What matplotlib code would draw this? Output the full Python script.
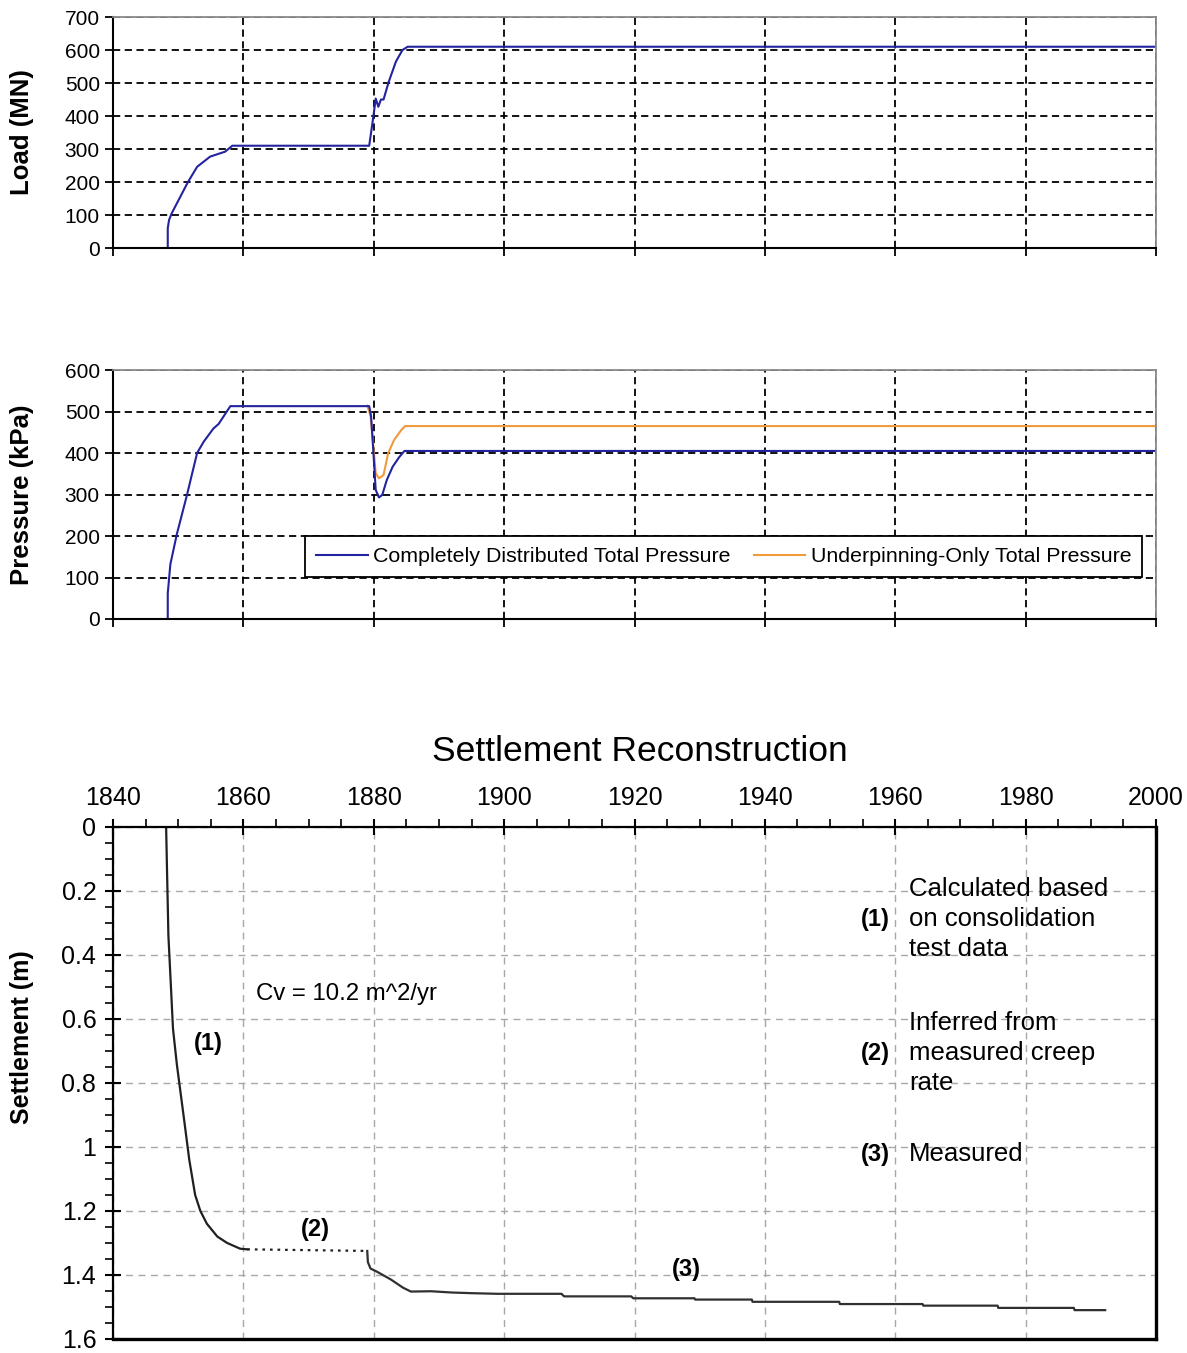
import matplotlib
matplotlib.use('Agg')
import matplotlib.pyplot as plt
from matplotlib.ticker import MultipleLocator

plt.rcParams['font.family'] = ['Liberation Sans', 'DejaVu Sans']

# load history
load_years = [1848.4, 1848.4, 1848.6, 1849.0, 1851.5, 1852.9, 1854.9, 1857.2, 1858.3, 1879.3,
              1879.95, 1880.3, 1880.7, 1881.1, 1881.5, 1882.3, 1883.4, 1884.4, 1885.2, 2000]
load_mn = [0, 60, 85, 105, 200, 246, 277, 292, 310, 310,
           400, 453, 428, 450, 450, 504, 565, 600, 610, 610]

# pressure history
dist_years = [1848.4, 1848.4, 1848.8, 1849.8, 1851.3, 1852.9, 1853.9, 1855.4, 1856.2, 1858.0, 1879.3,
              1879.6, 1880.05, 1880.3, 1880.8, 1881.3, 1882.0, 1882.9, 1883.9, 1884.7, 2000]
dist_kpa = [0, 62, 132, 205, 296, 400, 427, 459, 470, 513, 513,
            487, 375, 311, 293, 299, 335, 367, 390, 405, 405]
under_years = [1879.0, 1879.5, 1879.95, 1880.3, 1880.8, 1881.5, 1882.2, 1883.1, 1884.2, 1884.8, 2000]
under_kpa = [514, 491, 415, 351, 339, 347, 399, 431, 455, 465, 465]

# settlement
calc_years = [1848.15, 1848.26, 1848.5, 1848.9, 1849.2, 1849.8, 1850.8, 1851.7, 1852.6, 1853.4,
              1854.4, 1856.0, 1857.5, 1859.5, 1860.6]
calc_settle = [0.0, 0.11, 0.34, 0.505, 0.63, 0.743, 0.898, 1.04, 1.15, 1.2,
               1.24, 1.28, 1.30, 1.318, 1.32]
creep_years = [1860.6, 1879.0]
creep_settle = [1.32, 1.325]
meas_years = [1879.0, 1879.1, 1879.5, 1880.5, 1882.6, 1884.5, 1885.7, 1888.8, 1892.0, 1895.0,
              1899.0, 1908.8, 1909.2, 1919.5, 1919.8, 1929.2, 1929.3, 1938.0, 1938.1, 1951.4,
              1951.5, 1964.2, 1964.3, 1975.7, 1975.8, 1987.4, 1987.5, 1992.2]
meas_settle = [1.325, 1.36, 1.38, 1.39, 1.414, 1.44, 1.452, 1.451, 1.455, 1.457,
               1.459, 1.459, 1.467, 1.467, 1.473, 1.473, 1.477, 1.477, 1.484, 1.484,
               1.491, 1.491, 1.496, 1.496, 1.503, 1.503, 1.51, 1.51]

year_ticks = list(range(1840, 2001, 20))
blue = '#2323a0'
orange = '#f09a3c'

fig = plt.figure(figsize=(11.87, 13.53), dpi=100)
ax1 = fig.add_axes([0.0952, 0.8167, 0.8787, 0.1707])
ax2 = fig.add_axes([0.0952, 0.5425, 0.8787, 0.1840])
ax3 = fig.add_axes([0.0952, 0.0104, 0.8787, 0.3784])


def style_top(ax, ymax, ystep, label):
    ax.set_xlim(1840, 2000)
    ax.set_ylim(0, ymax)
    ax.set_xticks(year_ticks)
    ax.set_xticklabels([])
    ax.set_yticks(range(0, ymax + 1, ystep))
    ax.tick_params(axis='both', labelsize=15, length=6, width=1.3, direction='out')
    ax.grid(True, color='black', linestyle=(0, (4, 2.5)), linewidth=1.3)
    ax.set_axisbelow(True)
    for s in ['top', 'right']:
        ax.spines[s].set_color('#8a8a8a')
        ax.spines[s].set_linewidth(1.3)
    for s in ['bottom', 'left']:
        ax.spines[s].set_linewidth(1.5)
    ax.set_ylabel(label, fontsize=18.5, fontweight='bold')
    ax.yaxis.set_label_coords(-0.076, 0.5)


style_top(ax1, 700, 100, 'Load (MN)')
ax1.plot(load_years, load_mn, color=blue, lw=1.5)

style_top(ax2, 600, 100, 'Pressure (kPa)')
ax2.plot(under_years, under_kpa, color=orange, lw=1.5, label='Underpinning-Only Total Pressure')
ax2.plot(dist_years, dist_kpa, color=blue, lw=1.5, label='Completely Distributed Total Pressure')
h, l = ax2.get_legend_handles_labels()
leg = ax2.legend(h[::-1], l[::-1], ncol=2, loc='center', bbox_to_anchor=(0.5855, 0.251),
                 fontsize=15.4, frameon=True, fancybox=False, framealpha=1, edgecolor='black',
                 handlelength=2.4, handletextpad=0.25, columnspacing=1.1, borderpad=0.5)
leg.get_frame().set_linewidth(1.3)

# settlement panel
ax3.set_xlim(1840, 2000)
ax3.set_ylim(1.6, 0)
ax3.xaxis.tick_top()
ax3.set_xticks(year_ticks)
ax3.xaxis.set_minor_locator(MultipleLocator(5))
ax3.set_yticks([0, 0.2, 0.4, 0.6, 0.8, 1.0, 1.2, 1.4, 1.6])
ax3.set_yticklabels(['0', '0.2', '0.4', '0.6', '0.8', '1', '1.2', '1.4', '1.6'])
ax3.yaxis.set_minor_locator(MultipleLocator(0.05))
ax3.tick_params(axis='both', which='major', labelsize=18, direction='inout', length=12, width=1.5, pad=6)
ax3.tick_params(axis='both', which='minor', direction='out', length=6, width=1.2)
ax3.grid(True, which='major', color='#a8a8a8', linestyle=(0, (5, 4)), linewidth=1.0)
ax3.set_axisbelow(True)
for s in ['top', 'left']:
    ax3.spines[s].set_linewidth(1.6)
for s in ['bottom', 'right']:
    ax3.spines[s].set_linewidth(2.4)
ax3.set_ylabel('Settlement (m)', fontsize=18, fontweight='bold')
ax3.yaxis.set_label_coords(-0.076, 0.59)
ax3.text(0.505, 1.148, 'Settlement Reconstruction', transform=ax3.transAxes,
         ha='center', va='center', fontsize=25.5)

ax3.plot(calc_years, calc_settle, color='#202020', lw=1.6)
ax3.plot(creep_years, creep_settle, color='#202020', lw=1.6, linestyle=(0, (1.2, 2.2)))
ax3.plot(meas_years, meas_settle, color='#303030', lw=1.6)

ax3.text(1862.0, 0.521, 'Cv = 10.2 m^2/yr', fontsize=17.3, ha='left', va='center')
ax3.text(1854.6, 0.676, '(1)', fontsize=17, fontweight='bold', ha='center', va='center')
ax3.text(1871.1, 1.259, '(2)', fontsize=17, fontweight='bold', ha='center', va='center')
ax3.text(1928.0, 1.383, '(3)', fontsize=17, fontweight='bold', ha='center', va='center')

notes = [(0.288, '(1)', 'Calculated based\non consolidation\ntest data'),
         (0.707, '(2)', 'Inferred from\nmeasured creep\nrate'),
         (1.023, '(3)', 'Measured')]
for y, num, txt in notes:
    ax3.text(1959.1, y, num, fontsize=17, fontweight='bold', ha='right', va='center')
    ax3.text(1962.15, y, txt, fontsize=18.5, ha='left', va='center', linespacing=1.3)

fig.savefig('out.png', dpi=100)
